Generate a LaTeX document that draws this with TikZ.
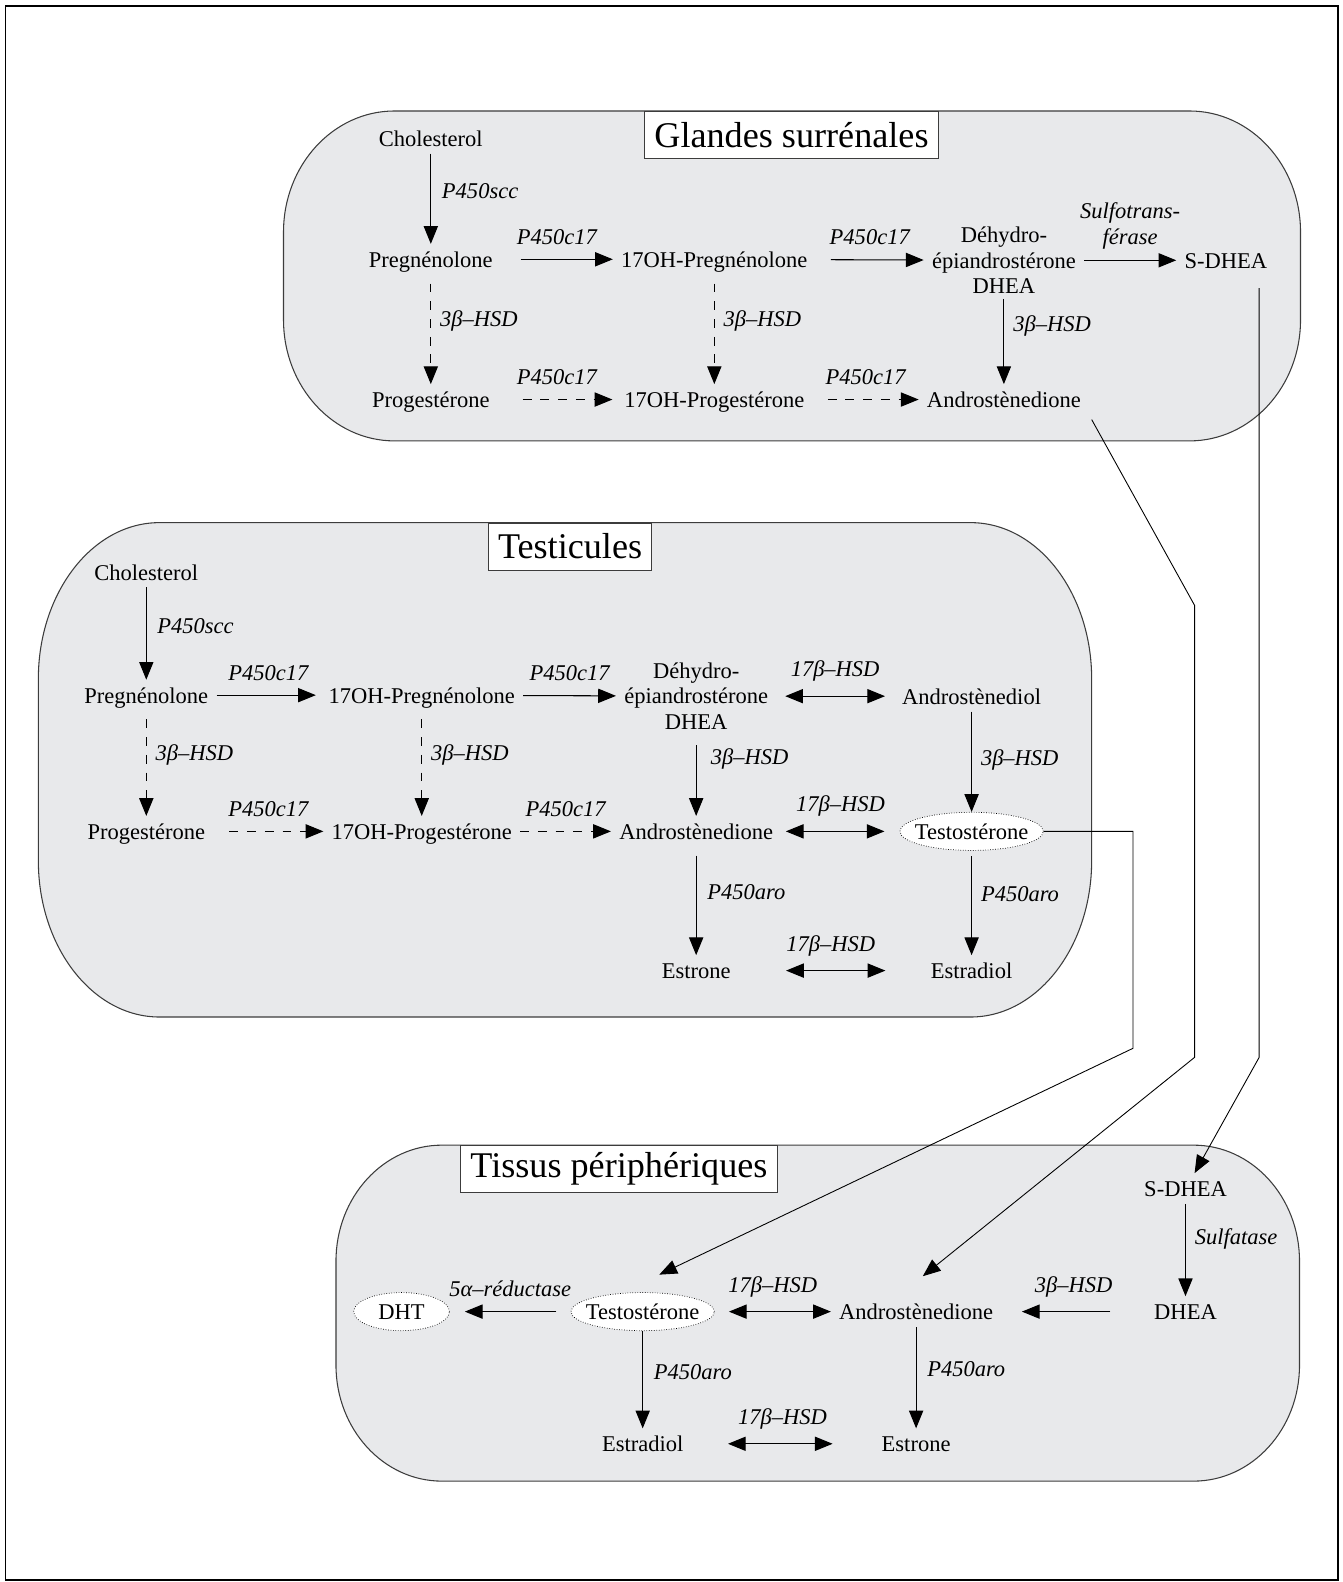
\documentclass[tikz,border=0pt]{standalone}
\usepackage{fontspec}
\setmainfont{Liberation Serif}
\usetikzlibrary{arrows.meta,calc,shapes.geometric}

\definecolor{organfill}{RGB}{232,233,235}
\definecolor{organline}{RGB}{60,60,60}

\tikzset{
    chem/.style={font=\fontsize{12.7}{14.2}\selectfont, inner xsep=4.5pt, inner ysep=3pt, text height=10pt, text depth=1pt},
    chemlines/.style={font=\fontsize{12.7}{14.2}\selectfont, inner xsep=4.5pt, inner ysep=3pt, align=center},
    hormone/.style={chem, ellipse, draw, densely dotted, fill=white, inner xsep=-3.4pt, inner ysep=2.1pt, minimum height=21pt, minimum width=54pt},
    enz/.style={font=\fontsize{12.7}{14.7}\selectfont\itshape, inner sep=4pt},
    conv/.style={line width=0.6pt, -{Triangle[length=10pt,width=8pt]}},
    convdash/.style={conv, dash pattern=on 5pt off 5pt},
    convboth/.style={line width=0.6pt, {Triangle[length=10pt,width=8pt]}-{Triangle[length=10pt,width=8pt]}},
    transport/.style={line width=0.5pt, -{Triangle[length=10pt,width=8pt]}},
    organ/.style={draw=organline, fill=organfill, line width=0.6pt},
    organtitle/.style={draw=organline, fill=white, font=\fontsize{20.4}{24}\selectfont, inner xsep=5.5pt, minimum height=26.6pt, anchor=north}
}

% x1 y1 x2 y2 rx ry
\newcommand{\organbox}[6]{%
    \filldraw[organ] (#1+#5,#2) -- (#3-#5,#2)
        arc[start angle=270, end angle=360, x radius=#5, y radius=#6]
        -- (#3,#4-#6)
        arc[start angle=0, end angle=90, x radius=#5, y radius=#6]
        -- (#1+#5,#4)
        arc[start angle=90, end angle=180, x radius=#5, y radius=#6]
        -- (#1,#2+#6)
        arc[start angle=180, end angle=270, x radius=#5, y radius=#6]
        -- cycle;}

\begin{document}
\begin{tikzpicture}[x=0.02cm, y=-0.02cm]
        \useasboundingbox (0,0) rectangle (1331,1568);
        \draw[line width=0.8pt] (5.5,6) rectangle (1326,1566);

        % Organs
        \organbox{281}{110}{1289}{437}{110}{120}
        \organbox{38}{518}{1082}{1008}{120}{155}
        \organbox{333}{1135}{1288}{1468}{105}{115}

        \node[organtitle] (GTitle) at (784.5,110) {Glandes surrénales};
        \node[organtitle] (TTitle) at (565,518) {Testicules};
        \node[organtitle] (PTitle) at (613.5,1135) {Tissus périphériques};

        % Nodes: Glandes surrénales
        \node[chem] (GChol) at (427,137) {Cholesterol};
        \node[chem] (GPreg) at (427,257) {Pregnénolone};
        \node[chem] (GOHPreg) at (708,257) {17OH-Pregnénolone};
        \node[chemlines] (GDHEA) at (995,258) {Déhydro-\\épiandrostérone\\DHEA};
        \node[chem] (GSDHEA) at (1215,258) {S-DHEA};
        \node[chem] (GProg) at (427,396) {Progestérone};
        \node[chem] (GOHProg) at (708,396) {17OH-Progestérone};
        \node[chem] (GAndro) at (995,396) {Androstènedione};

        % Nodes: Testicules
        \node[chem] (TChol) at (145,567) {Cholesterol};
        \node[chem] (TPreg) at (145,689) {Pregnénolone};
        \node[chem] (TOHPreg) at (418,689) {17OH-Pregnénolone};
        \node[chemlines] (TDHEA) at (690,690) {Déhydro-\\épiandrostérone\\DHEA};
        \node[chem] (TDiol) at (963,690) {Androstènediol};
        \node[chem] (TProg) at (145,824) {Progestérone};
        \node[chem] (TOHProg) at (418,824) {17OH-Progestérone};
        \node[chem] (TAndro) at (690,824) {Androstènedione};
        \node[hormone] (TTesto) at (963,824) {Testostérone};
        \node[chem] (TEstrone) at (690,962) {Estrone};
        \node[chem] (TEstradiol) at (963,962) {Estradiol};

        % Nodes: Tissus périphériques
        \node[chem] (PSDHEA) at (1175,1178) {S-DHEA};
        \node[chem] (PDHEA) at (1175,1300) {DHEA};
        \node[chem] (PAndro) at (908,1300) {Androstènedione};
        \node[hormone] (PTesto) at (637,1300) {Testostérone};
        \node[hormone] (PDHT) at (398,1300) {DHT};
        \node[chem] (PEstradiol) at (637,1431) {Estradiol};
        \node[chem] (PEstrone) at (908,1431) {Estrone};

        % Arrows: Glandes surrénales
        \draw[conv] (GChol) -- node[enz, right=2pt, pos=0.42] {P450scc} (GPreg);
        \draw[conv, shorten <=11pt] (GPreg) -- node[enz, above=4pt] {P450c17} (GOHPreg);
        \draw[conv, shorten <=8.5pt] (GOHPreg) -- node[enz, above=4pt] {P450c17} (GDHEA);
        \draw[conv] (GDHEA) -- node[enz, above=2pt, align=center] {Sulfotrans-\\férase} (GSDHEA);
        \draw[convdash, shorten <=5pt] (GPreg) -- node[enz, right=1pt, pos=0.42] {3β–HSD} (GProg);
        \draw[convdash, shorten <=5pt] (GOHPreg) -- node[enz, right=1pt, pos=0.42] {3β–HSD} (GOHProg);
        \draw[conv] (GDHEA) -- node[enz, right=1pt, pos=0.32] {3β–HSD} (GAndro);
        \draw[convdash, shorten <=14pt, shorten >=2pt] (GProg) -- node[enz, above=4pt] {P450c17} (GOHProg);
        \draw[convdash, shorten <=8.5pt] (GOHProg) -- node[enz, above=4pt] {P450c17} (GAndro);

        % Arrows: Testicules
        \draw[conv] (TChol) -- node[enz, right=2pt, pos=0.42] {P450scc} (TPreg);
        \draw[conv, shorten >=2.5pt] (TPreg) -- node[enz, above=4pt] {P450c17} (TOHPreg);
        \draw[conv] (TOHPreg) -- node[enz, above=4pt] {P450c17} (TDHEA);
        \draw[convboth, shorten <=5pt, shorten >=5pt] (TDHEA) -- node[enz, above=4pt] {17β–HSD} (TDiol);
        \draw[convdash, shorten <=5pt] (TPreg) -- node[enz, right=1pt, pos=0.42] {3β–HSD} (TProg);
        \draw[convdash, shorten <=5pt] (TOHPreg) -- node[enz, right=1pt, pos=0.42] {3β–HSD} (TOHProg);
        \draw[conv, shorten <=6pt] (TDHEA) -- node[enz, right=4pt, pos=0.3] {3β–HSD} (TAndro);
        \draw[conv] (TDiol) -- node[enz, right=1pt, pos=0.48] {3β–HSD} (TTesto);
        \draw[convdash, shorten <=9pt] (TProg) -- node[enz, above=4pt] {P450c17} (TOHProg);
        \draw[convdash] (TOHProg) -- node[enz, above=4pt] {P450c17} (TAndro);
        \draw[convboth, shorten <=2.5pt, shorten >=8.5pt] (TAndro) -- node[enz, above=4pt] {17β–HSD} (TTesto);
        \draw[conv, shorten <=5pt] (TAndro) -- node[enz, right=2pt, pos=0.42] {P450aro} (TEstrone);
        \draw[conv, shorten <=3pt] (TTesto) -- node[enz, right=1pt, pos=0.42] {P450aro} (TEstradiol);
        \draw[convboth, shorten <=26.6pt, shorten >=21pt] (TEstrone) -- node[enz, above=4pt] {17β–HSD} (TEstradiol);

        % Arrows: Tissus périphériques
        \draw[conv] (PSDHEA) -- node[enz, right=1pt, pos=0.38] {Sulfatase} (PDHEA);
        \draw[conv, shorten <=20pt, shorten >=11.6pt] (PDHEA) -- node[enz, above=4pt] {3β–HSD} (PAndro);
        \draw[convboth, shorten <=8pt] (PTesto) -- node[enz, above=4pt] {17β–HSD} (PAndro);
        \draw[conv, shorten <=8pt, shorten >=8.5pt] (PTesto) -- node[enz, above=4pt] {5α–réductase} (PDHT);
        \draw[conv] (PTesto) -- node[enz, right=2pt, pos=0.42] {P450aro} (PEstradiol);
        \draw[conv] (PAndro) -- node[enz, right=2pt, pos=0.42] {P450aro} (PEstrone);
        \draw[convboth, shorten <=20.5pt, shorten >=23pt] (PEstradiol) -- node[enz, above=4pt] {17β–HSD} (PEstrone);

        % Transport between organs
        \coordinate (AndroBendTop) at (1184,600);
        \coordinate (AndroBendLow) at (1184,1048);
        \coordinate (SulfoBend) at (1248,1048);
        \coordinate (TestoBendTop) at (1123,824);
        \coordinate (TestoBendLow) at (1123,1039);

        \draw[transport, shorten <=3pt, shorten >=18pt] (GAndro.south east) -- (AndroBendTop) -- (AndroBendLow) -- ($(PAndro.north)+(-18,0)$);
        \draw[transport, shorten <=7pt] (SulfoBend |- GSDHEA.south) -- (SulfoBend) -- ($(PSDHEA.north)+(9,0)$);
        \draw[transport, shorten >=23pt] (TTesto.east) -- (TestoBendTop) -- (TestoBendLow) -- ($(PTesto.north)+(-20,0)$);
\end{tikzpicture}
\end{document}
